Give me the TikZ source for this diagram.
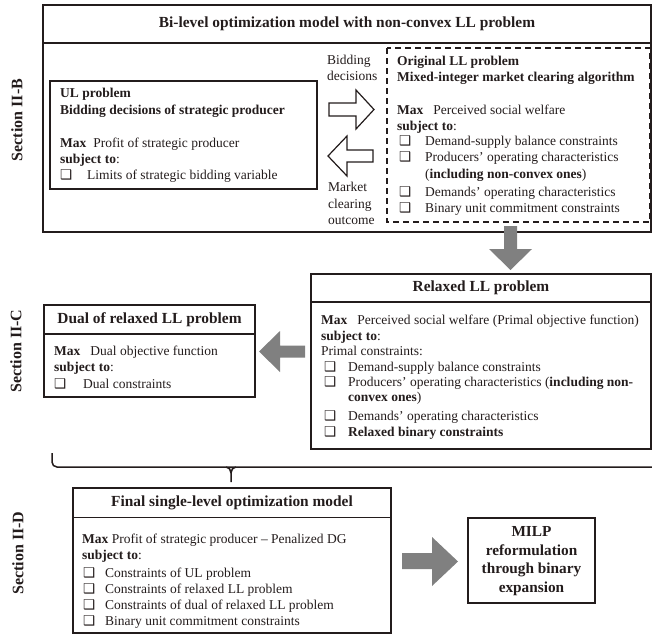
\documentclass[tikz,border=0pt]{standalone}
\usepackage{fontspec}
\setmainfont{Liberation Serif}
\newfontfamily\dejavu{DejaVu Sans}
\definecolor{ink}{RGB}{35,28,28}
\definecolor{arrowgray}{RGB}{128,128,128}
\newcommand\bx{{\dejavu\fontsize{13.5}{13.5}\selectfont\raisebox{-0.4pt}{❑}}}
\newcommand\bitem[2]{\makebox[#1pt][l]{\bx}#2}
\tikzset{
  txt/.style={anchor=west, inner sep=0pt, text height=9pt, text depth=3pt, font=\fontsize{13.5}{16}\selectfont, text=ink},
  ttl/.style={anchor=center, inner sep=0pt, font=\bfseries\fontsize{15.4}{18}\selectfont, text=ink},
  mtl/.style={anchor=center, inner sep=0pt, align=center, font=\bfseries\fontsize{15.3}{18.7}\selectfont, text=ink},
  sec/.style={rotate=90, anchor=center, inner sep=0pt, font=\bfseries\fontsize{16}{18}\selectfont, text=ink},
  frame/.style={draw=ink, line width=1.6pt},
  inner frame/.style={draw=ink, line width=1.3pt},
  dashframe/.style={draw=ink, line width=1.3pt, dash pattern=on 6pt off 4pt},
  graybar/.style={fill=arrowgray, draw=none},
  hollow/.style={draw=ink, fill=white, line width=1.2pt, line join=miter},
  bracestyle/.style={draw=ink, line width=1.5pt}
}
\begin{document}
\begin{tikzpicture}[x=1pt,y=-1pt]
\useasboundingbox (0,0) rectangle (652,635);

% ---------- Section II-B ----------
\draw[frame] (43,5) rectangle (651,232);
\draw[frame] (43,43) -- (651,43);
\node[ttl] (toptitle) at (347,24) {Bi-level optimization model with non-convex LL problem};
\node[sec] (secB) at (17,120) {Section II-B};

% UL box
\draw[inner frame] (50,81) rectangle (317,189);
\node[txt] (ul1) at (60,94) {\textbf{UL problem}};
\node[txt] (ul2) at (60,111) {\textbf{Bidding decisions of strategic producer}};
\node[txt] (ul3) at (60,144) {\textbf{Max}\hspace{7pt}Profit of strategic producer};
\node[txt] (ul4) at (60,160) {\textbf{subject to}:};
\node[txt] (ul5) at (60,176) {\bitem{27}{Limits of strategic bidding variable}};

% dashed LL box
\draw[dashframe] (387,48) rectangle (650,222);
\node[txt] (ll1) at (397,62) {\textbf{Original LL problem}};
\node[txt] (ll2) at (397,78) {\textbf{Mixed-integer market clearing algorithm}};
\node[txt] (ll3) at (397,111) {\textbf{Max}\hspace{10pt}Perceived social welfare};
\node[txt] (ll4) at (397,127) {\textbf{subject to}:};
\node[txt] (ll5) at (399,142) {\bitem{26}{Demand-supply balance constraints}};
\node[txt] (ll6) at (399,158) {\bitem{26}{Producers’ operating characteristics}};
\node[txt] (ll7) at (425,175) {(\textbf{including non-convex ones})};
\node[txt] (ll8) at (399,193) {\bitem{26}{Demands’ operating characteristics}};
\node[txt] (ll9) at (399,209) {\bitem{26}{Binary unit commitment constraints}};

% hollow arrows
\draw[hollow] (329,103) -- (356,103) -- (356,90) -- (374,109.5) -- (356,129) -- (356,116) -- (329,116) -- cycle;
\draw[hollow] (373,150) -- (347,150) -- (347,136) -- (328,156) -- (347,176) -- (347,162) -- (373,162) -- cycle;
\node[txt] (bid1) at (327,61) {Bidding};
\node[txt] (bid2) at (327,77) {decisions};
\node[txt] (mk1) at (328,188) {Market};
\node[txt] (mk2) at (328,205) {clearing};
\node[txt] (mk3) at (328,221) {outcome};

% gray down arrow
\fill[graybar] (504,226) -- (517,226) -- (517,249) -- (532,249) -- (510.5,270) -- (489,249) -- (504,249) -- cycle;

% ---------- Section II-C ----------
\node[sec] (secC) at (16,351) {Section II-C};
\draw[frame] (311,274) rectangle (651,449);
\draw[frame] (311,302) -- (651,302);
\node[ttl] (rtitle) at (481,288) {Relaxed LL problem};
\node[txt] (r1) at (321,321) {\textbf{Max}\hspace{10pt}Perceived social welfare (Primal objective function)};
\node[txt] (r2) at (321,337) {\textbf{subject to}:};
\node[txt] (r3) at (321,352) {Primal constraints:};
\node[txt] (r4) at (324,368) {\bitem{24}{Demand-supply balance constraints}};
\node[txt] (r5) at (324,383) {\bitem{24}{Producers’ operating characteristics (\textbf{including non-}}};
\node[txt] (r6) at (348,398) {\textbf{convex ones})};
\node[txt] (r7) at (324,417) {\bitem{24}{Demands’ operating characteristics}};
\node[txt] (r8) at (324,433) {\bitem{24}{\textbf{Relaxed binary constraints}}};

\draw[frame] (44,305) rectangle (255,397);
\draw[frame] (44,334) -- (255,334);
\node[ttl] (dtitle) at (149.5,320) {Dual of relaxed LL problem};
\node[txt] (d1) at (54,352) {\textbf{Max}\hspace{10pt}Dual objective function};
\node[txt] (d2) at (54,368) {\textbf{subject to}:};
\node[txt] (d3) at (54,385) {\bitem{29}{Dual constraints}};

% gray left arrow
\fill[graybar] (305,345.5) -- (280,345.5) -- (280,331) -- (259,351.5) -- (280,372) -- (280,357.5) -- (305,357.5) -- cycle;

% brace
\draw[bracestyle, rounded corners=5pt] (52,453) -- (52,467) -- (652,467);
\draw[bracestyle] (226,467) to[out=0,in=90] (231,473) -- (231,482);
\draw[bracestyle] (236,467) to[out=180,in=90] (231,473);

% ---------- Section II-D ----------
\node[sec] (secD) at (18,553) {Section II-D};
\draw[frame] (73,488) rectangle (391,633);
\draw[frame] (73,517.5) -- (391,517.5);
\node[ttl] (ftitle) at (232,503) {Final single-level optimization model};
\node[txt] (f1) at (82,540) {\textbf{Max} Profit of strategic producer – Penalized DG};
\node[txt] (f2) at (82,556) {\textbf{subject to}:};
\node[txt] (f3) at (83,574) {\bitem{22}{Constraints of UL problem}};
\node[txt] (f4) at (83,590) {\bitem{22}{Constraints of relaxed LL problem}};
\node[txt] (f5) at (83,606) {\bitem{22}{Constraints of dual of relaxed LL problem}};
\node[txt] (f6) at (83,622) {\bitem{22}{Binary unit commitment constraints}};

% gray right arrow
\fill[graybar] (402,553) -- (432,553) -- (432,537) -- (458,561.5) -- (432,586) -- (432,569) -- (402,569) -- cycle;

\draw[frame] (468,518) rectangle (595,603);
\node[mtl] (milp) at (531.5,561) {MILP\\reformulation\\through binary\\expansion};
\end{tikzpicture}
\end{document}
